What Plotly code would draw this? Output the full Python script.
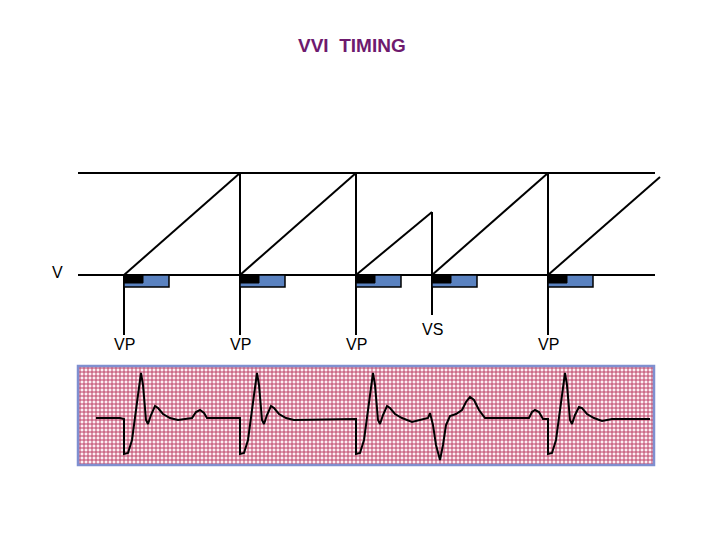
import plotly.graph_objects as go

# ---- data ----
event_x = [124, 240, 356, 432, 548]
event_labels = ["VP", "VP", "VP", "VS", "VP"]
ramp_top = [173, 173, 212, 173, 177]          # height reached by each timing ramp
ramp_end_x = [240, 356, 432, 548, 660]
ecg_x = [96,120,124,124,128,132,138,141,143,146,148,151,155,158,163,170,178,186,192,196,200,204,207,240,
         240,244,248,254,257,259,262,264,267,271,274,279,286,294,356,
         356,360,364,370,373,375,378,380,383,387,390,395,402,412,420,428,430,433,436,440,443,446,450,456,462,466,470,474,479,485,529,532,535,539,543,548,
         548,552,556,562,565,567,570,572,575,579,582,587,594,602,612,650]
ecg_y = [418,418,419,454,453,440,395,373,385,420,424,415,406,408,414,418,420,419,418,412,410,413,418,418,
         454,453,440,395,373,385,420,424,415,406,408,414,418,420,419,
         454,453,440,395,373,385,420,424,415,406,408,414,418,422,420,418,413,425,445,460,445,425,416,414,410,402,397,400,410,418,418,412,410,412,419,419,
         454,453,440,395,373,385,420,424,415,407,408,414,418,421,419,419]

BASE, TOP = 275, 173
OFF = 8  # page body margin compensation
fig = go.Figure()

sx0, sx1, sy0, sy1 = 78, 654, 366, 465
shapes = [dict(type="rect", x0=sx0, x1=sx1, y0=sy0, y1=sy1, fillcolor="#fdeef3", line=dict(width=0), layer="below")]
gx, gy = [], []
v = sx0 + 2
while v < sx1:
    gx += [v, v, None]; gy += [sy0, sy1, None]; v += 4
h = sy0 + 2
while h < sy1:
    gx += [sx0, sx1, None]; gy += [h, h, None]; h += 4
fig.add_trace(go.Scatter(x=gx, y=gy, mode="lines", line=dict(color="#bd4266", width=1), hoverinfo="skip"))
shapes.append(dict(type="rect", x0=sx0, x1=sx1, y0=sy0, y1=sy1, line=dict(color="#7f8fd0", width=2.5)))
fig.add_trace(go.Scatter(x=ecg_x, y=ecg_y, mode="lines", line=dict(color="black", width=2), hoverinfo="skip"))

lx = [78, 655, None, 78, 655, None]
ly = [TOP, TOP, None, BASE, BASE, None]
for i, ex in enumerate(event_x):
    lx += [ex, ramp_end_x[i], None]; ly += [BASE, ramp_top[i], None]
    top = TOP if event_labels[i] == "VP" and i > 0 else (ramp_top[i-1] if i > 0 else BASE)
    bottom = 335 if event_labels[i] == "VP" else 315
    lx += [ex, ex, None]; ly += [top, bottom, None]
fig.add_trace(go.Scatter(x=lx, y=ly, mode="lines", line=dict(color="black", width=2), hoverinfo="skip"))

for ex in event_x:
    shapes.append(dict(type="rect", x0=ex, x1=ex + 45, y0=BASE, y1=BASE + 12, fillcolor="#5a82c0", line=dict(color="black", width=1.5)))
    shapes.append(dict(type="rect", x0=ex, x1=ex + 19, y0=BASE, y1=BASE + 8, fillcolor="black", line=dict(color="black", width=1)))

ann = [dict(x=ex, y=(344 if lab == "VP" else 329), text=lab, showarrow=False,
            font=dict(family="Liberation Sans", size=16, color="black")) for ex, lab in zip(event_x, event_labels)]
ann.append(dict(x=57, y=272, text="V", showarrow=False, font=dict(family="Liberation Sans", size=16, color="black")))
ann.append(dict(x=352, y=45, text="<b>VVI&nbsp;&nbsp;TIMING</b>", showarrow=False,
                font=dict(family="Liberation Sans", size=19, color="#6e1a6e")))

fig.update_layout(width=720, height=540, margin=dict(l=0, r=0, t=0, b=0),
                  plot_bgcolor="white", paper_bgcolor="white", showlegend=False,
                  shapes=shapes, annotations=ann,
                  xaxis=dict(range=[OFF, 720 + OFF], visible=False, fixedrange=True),
                  yaxis=dict(range=[540 + OFF, OFF], visible=False, fixedrange=True))
fig.write_html("out.html")
